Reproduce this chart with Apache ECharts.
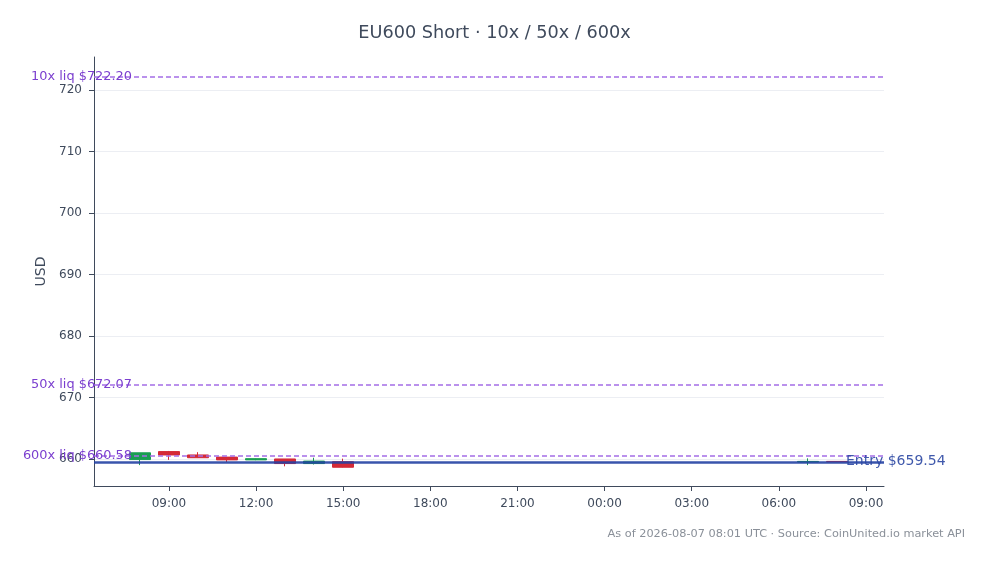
<!DOCTYPE html>
<html>
<head>
<meta charset="utf-8">
<script src="https://cdn.jsdelivr.net/npm/echarts@6/dist/echarts.min.js"></script>
<style>
html,body{margin:0;padding:0;background:#fff;}
#chart{width:989px;height:564px;}
</style>
</head>
<body>
<div id="chart"></div>
<script>
'use strict'

// hours since 2026-08-06 00:00 UTC
var candleHours = [8, 9, 10, 11, 12, 13, 14, 15, 31, 32];
var opens  = [659.90, 661.20, 660.65, 660.30, 659.85, 660.00, 659.25, 659.55, 659.50, 659.60];
var closes = [661.00, 660.65, 660.20, 659.85, 660.05, 659.25, 659.65, 658.65, 659.60, 659.54];
var lows   = [659.00, 659.85, 660.15, 659.50, 659.80, 658.80, 659.10, 658.60, 659.00, 659.50];
var highs  = [661.00, 661.30, 661.10, 660.30, 660.10, 660.00, 660.20, 660.05, 660.10, 659.65];

var xTicks = [9, 12, 15, 18, 21, 24, 27, 30, 33];
var yTicks = [660, 670, 680, 690, 700, 710, 720];

var entryPrice = 659.54;
var liqLevels = [
    {name: '10x', price: 722.20},
    {name: '50x', price: 672.07},
    {name: '600x', price: 660.58}
];

var font = 'DejaVu Sans';
var ink = '#3f4a5c';

var candleData = candleHours.map(function (h, i) {
    return [h, opens[i], closes[i], lows[i], highs[i]];
});

function hourLabel(v) {
    var h = Math.round(v) % 24;
    return (h < 10 ? '0' : '') + h + ':00';
}

var chartView = echarts.init(document.getElementById('chart'));

chartView.setOption({
    backgroundColor: '#fff',
    animation: false,
    textStyle: {fontFamily: font},
    title: {
        text: 'EU600 Short · 10x / 50x / 600x',
        left: 'center',
        top: 19,
        textStyle: {fontFamily: font, fontSize: 17.7, fontWeight: 'normal', color: ink}
    },
    graphic: [{
        type: 'text',
        right: 24,
        top: 529,
        style: {
            text: 'As of 2026-08-07 08:01 UTC · Source: CoinUnited.io market API',
            font: '11.3px "DejaVu Sans"',
            fill: '#8a9099'
        }
    }],
    grid: {left: 94, right: 105, top: 57, bottom: 78},
    xAxis: {
        type: 'value',
        min: 6.42,
        max: 33.62,
        axisLine: {lineStyle: {color: ink, width: 1}},
        axisTick: {show: true, customValues: xTicks, length: 5, lineStyle: {color: ink}},
        axisLabel: {customValues: xTicks, formatter: hourLabel, color: ink, fontSize: 12, margin: 12},
        splitLine: {show: false}
    },
    yAxis: {
        type: 'value',
        min: 655.6,
        max: 725.4,
        name: 'USD',
        nameLocation: 'middle',
        nameGap: 45,
        nameTextStyle: {fontFamily: font, fontSize: 14, color: ink},
        axisLine: {show: true, lineStyle: {color: ink, width: 1}},
        axisTick: {show: true, customValues: yTicks, length: 5, lineStyle: {color: ink}},
        axisLabel: {customValues: yTicks, color: ink, fontSize: 12, margin: 12},
        splitLine: {show: true, lineStyle: {color: '#eceef3', width: 1}}
    },
    series: [{
        type: 'candlestick',
        barWidth: 21,
        encode: {x: 0, y: [1, 2, 3, 4]},
        data: candleData,
        itemStyle: {
            color: '#1a9e52',
            color0: '#d42a37',
            borderColor: '#1a9e52',
            borderColor0: '#d42a37',
            borderWidth: 1
        },
        z: 2
    }, {
        type: 'line',
        data: [],
        silent: true,
        z: 3,
        markLine: {
            symbol: 'none',
            silent: true,
            animation: false,
            data: liqLevels.map(function (l) {
                return {
                    yAxis: l.price,
                    lineStyle: {color: '#a46ee6', type: [5, 3], width: 1.5},
                    label: {
                        show: true,
                        position: 'start',
                        distance: -38,
                        formatter: l.name + ' liq $' + l.price.toFixed(2),
                        color: '#7b3fcf',
                        fontSize: 12.9,
                        fontFamily: font
                    }
                };
            }).concat([{
                yAxis: entryPrice,
                lineStyle: {color: '#2341a3', type: 'solid', width: 2.5, opacity: 0.9},
                label: {
                    show: true,
                    position: 'end',
                    distance: -38,
                    formatter: 'Entry $' + entryPrice.toFixed(2),
                    color: '#2b47a3',
                    fontSize: 14,
                    fontFamily: font
                }
            }])
        }
    }]
});
</script>
</body>
</html>
